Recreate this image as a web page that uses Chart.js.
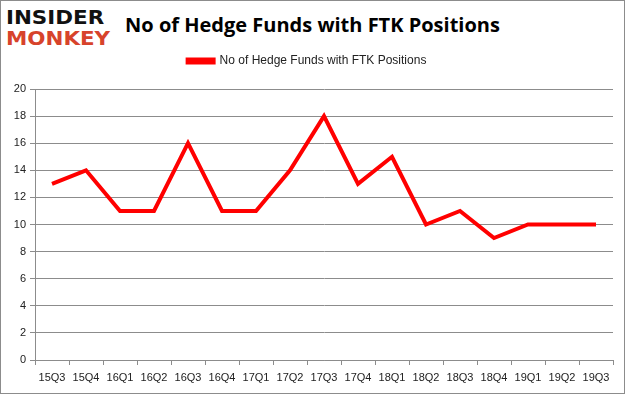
<!doctype html>
<html lang="en">
  <head>
    <meta charset="utf-8">
    <title>No of Hedge Funds with FTK Positions</title>
    <script src="https://cdn.jsdelivr.net/npm/chart.js"></script>
    <style>
      html, body { margin: 0; padding: 0; background: #fff; }
      .frame {
        position: relative;
        width: 625px;
        height: 394px;
        box-sizing: border-box;
        border: 1px solid #8c8c8c;
        overflow: hidden;
      }
      .logo {
        position: absolute;
        left: 5px;
        top: 6px;
        font-family: "DejaVu Sans", sans-serif;
        font-weight: bold;
        font-size: 20px;
        line-height: 21px;
        transform: scaleX(1.07);
        transform-origin: left top;
      }
      .logo .a { color: #111; }
      .logo .b { color: #d7432b; }
      .title {
        position: absolute;
        left: 0;
        right: 0;
        top: 10px;
        text-align: center;
        font-family: "Open Sans", sans-serif;
        font-weight: bold;
        font-size: 20px;
        color: #000;
      }
      canvas { position: absolute; left: 0; top: 0; }
    </style>
  </head>
  <body>
    <div class="frame">
      <div class="logo"><div class="a">INSIDER</div><div class="b">MONKEY</div></div>
      <div class="title">No of Hedge Funds with FTK Positions</div>
      <canvas id="chart" width="623" height="392"></canvas>
    </div>
    <script>
      // quarters and fund counts
      const quarters = ['15Q3', '15Q4', '16Q1', '16Q2', '16Q3', '16Q4', '17Q1', '17Q2', '17Q3',
                        '17Q4', '18Q1', '18Q2', '18Q3', '18Q4', '19Q1', '19Q2', '19Q3'];
      const funds = [13, 14, 11, 11, 16, 11, 11, 14, 18, 13, 15, 10, 11, 9, 10, 10, 10];
      const yTicks = [0, 2, 4, 6, 8, 10, 12, 14, 16, 18, 20];

      const gridColor = '#8c8c8c';
      const tickFont = { family: 'Liberation Sans', size: 11 };

      // extra room under the legend
      const legendGap = {
        id: 'legendGap',
        beforeInit(chart) {
          const fit = chart.legend.fit;
          chart.legend.fit = function () {
            fit.bind(chart.legend)();
            this.height += 12;
          };
        }
      };

      new Chart(document.getElementById('chart'), {
        type: 'line',
        data: {
          labels: quarters,
          datasets: [{
            label: 'No of Hedge Funds with FTK Positions',
            data: funds,
            borderColor: '#ff0000',
            backgroundColor: '#ff0000',
            borderWidth: 4,
            pointRadius: 0,
            tension: 0,
            fill: false
          }]
        },
        options: {
          responsive: false,
          animation: false,
          layout: { padding: { left: 0, right: 11, top: 44, bottom: 0 } },
          plugins: {
            legend: {
              display: true,
              position: 'top',
              labels: {
                boxWidth: 26,
                boxHeight: 3,
                padding: 10,
                color: '#222',
                font: { family: 'Liberation Sans', size: 12 }
              }
            },
            tooltip: { enabled: false }
          },
          scales: {
            x: {
              offset: true,
              grid: {
                display: true,
                drawOnChartArea: false,
                drawTicks: true,
                tickLength: 5,
                color: gridColor,
                offset: true
              },
              border: { color: gridColor },
              ticks: { color: '#222', font: tickFont, maxRotation: 0, autoSkip: false, padding: 6 },
              afterFit: s => { s.height = 33; }
            },
            y: {
              min: 0,
              max: 20,
              afterBuildTicks: s => { s.ticks = yTicks.map(v => ({ value: v })); },
              grid: { color: gridColor, tickLength: 5 },
              border: { color: gridColor },
              ticks: { color: '#222', font: tickFont, padding: 4 },
              afterFit: s => { s.width = 34; }
            }
          }
        },
        plugins: [legendGap]
      });
    </script>
  </body>
</html>
